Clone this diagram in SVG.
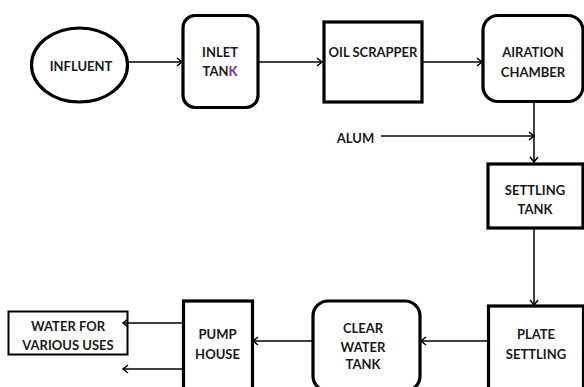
<svg xmlns="http://www.w3.org/2000/svg" width="584" height="387" viewBox="0 0 584 387">
<style>
.n{fill:#fff;stroke:#000;stroke-width:3.2}
.thin{fill:#fff;stroke:#000;stroke-width:2}
.t{font-family:Lato,"Open Sans","Liberation Sans",sans-serif;font-weight:bold;font-size:13px;fill:#1a1a1a;text-anchor:middle}
.c{fill:none;stroke:#000;stroke-width:1.5;marker-end:url(#a)}
</style>
<defs>
<marker id="a" markerWidth="10" markerHeight="10" refX="8" refY="5" orient="auto" markerUnits="userSpaceOnUse">
<polyline points="3,1 8,5 3,9" fill="none" stroke="#000" stroke-width="1.5"/>
</marker>
</defs>
<rect width="584" height="387" fill="#fff"/>
<g id="influent">
<ellipse class="n" cx="79.5" cy="65" rx="48" ry="37"/>
<text class="t" x="81" y="71">INFLUENT</text>
</g>
<g id="inlet">
<rect class="n" x="183" y="15.5" width="75" height="92" rx="12"/>
<text class="t" x="220" y="57">INLET</text>
<text class="t" x="220" y="76">TAN<tspan fill="#7030a0">K</tspan></text>
</g>
<g id="oil">
<rect class="n" x="324" y="22" width="98" height="80"/>
<text class="t" x="373" y="57">OIL SCRAPPER</text>
</g>
<g id="airation">
<rect class="n" x="483" y="15.5" width="100" height="86" rx="15"/>
<text class="t" x="533" y="57">AIRATION</text>
<text class="t" x="533" y="77">CHAMBER</text>
</g>
<g id="alum">
<text class="t" x="355.5" y="143">ALUM</text>
</g>
<g id="settling">
<rect class="n" x="488" y="164" width="95" height="64"/>
<text class="t" x="535" y="195">SETTLING</text>
<text class="t" x="535" y="214">TANK</text>
</g>
<g id="plate">
<rect class="n" x="488.5" y="306" width="95" height="90"/>
<text class="t" x="536" y="339">PLATE</text>
<text class="t" x="536" y="359">SETTLING</text>
</g>
<g id="clear">
<rect class="n" x="313" y="301" width="107" height="90" rx="15"/>
<text class="t" x="363" y="333">CLEAR</text>
<text class="t" x="363" y="352">WATER</text>
<text class="t" x="363" y="369">TANK</text>
</g>
<g id="pump">
<rect class="n" x="183.5" y="301" width="69" height="95"/>
<text class="t" x="217.5" y="339">PUMP</text>
<text class="t" x="217.5" y="359">HOUSE</text>
</g>
<g id="water">
<rect class="thin" x="8.5" y="311.5" width="119" height="43"/>
<text class="t" x="68" y="331">WATER FOR</text>
<text class="t" x="68" y="350">VARIOUS USES</text>
</g>
<g id="connectors">
<line class="c" x1="128" y1="62" x2="182" y2="62"/>
<line class="c" x1="258" y1="62" x2="322" y2="62"/>
<line class="c" x1="423" y1="62" x2="482" y2="62"/>
<line class="c" x1="534" y1="102" x2="534" y2="162"/>
<line class="c" x1="381" y1="136" x2="534" y2="136"/>
<line class="c" x1="534" y1="228" x2="534" y2="305"/>
<line class="c" x1="488" y1="341" x2="421" y2="341"/>
<line class="c" x1="313" y1="341" x2="253" y2="341"/>
<line class="c" x1="183" y1="323" x2="123" y2="323"/>
<line class="c" x1="183" y1="369" x2="123" y2="369"/>
</g>
</svg>
